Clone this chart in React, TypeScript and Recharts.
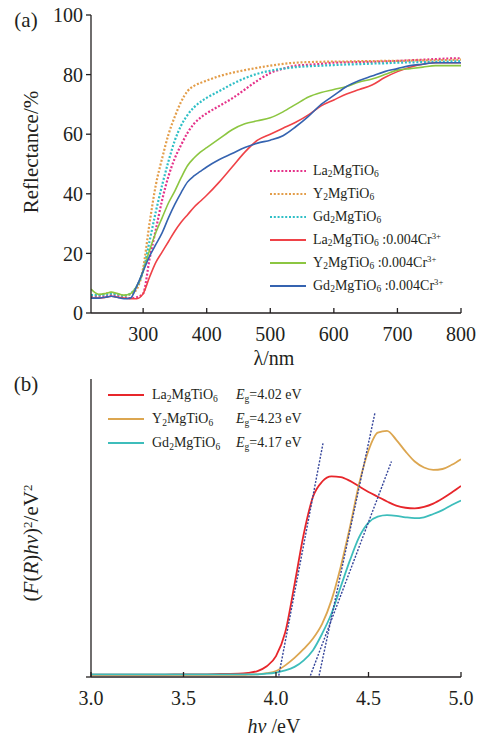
import React from 'react';
import { LineChart, Line, XAxis, YAxis, Legend } from 'recharts';

const FONT = '"Liberation Serif", "Times New Roman", serif';
const INK = '#231f20';

// (a) reflectance spectra, %
const wavelength = [218, 230, 240, 250, 260, 270, 280, 290, 300, 310, 320, 330, 340, 350, 360, 370, 380, 390, 400, 420, 440, 460, 480, 500, 520, 540, 560, 580, 600, 620, 640, 660, 680, 700, 720, 740, 760, 780, 800];
const laHost = [5.5, 5.5, 5.5, 6, 5.7, 5.2, 5, 5.3, 6.5, 18, 28, 38, 46, 52, 56.5, 60.5, 63.5, 65.5, 67, 69.5, 72, 75, 78, 80.5, 82, 83, 83.3, 83.6, 84, 84.1, 84.2, 84.3, 84.4, 84.6, 84.8, 85, 85.2, 85.4, 85.5];
const yHost = [6, 6, 6.5, 6.8, 6.3, 5.8, 6.2, 8, 15, 30, 43, 52, 60, 66, 71, 74.5, 76.2, 77.2, 78, 79.5, 80.6, 81.5, 82.3, 83, 83.6, 84, 84.2, 84.3, 84.4, 84.4, 84.5, 84.5, 84.6, 84.6, 84.7, 84.8, 84.8, 84.9, 85];
const gdHost = [6, 6, 6.2, 6.5, 6.2, 5.8, 6.5, 9, 14, 24, 34, 43, 51, 58, 63, 66.5, 69, 70.8, 72.2, 74.5, 76.8, 78.8, 80.3, 81.3, 82, 82.5, 82.8, 83, 83.2, 83.4, 83.5, 83.7, 83.8, 84, 84.1, 84.2, 84.3, 84.4, 84.5];
const laCr = [5, 5, 5.2, 5.6, 5.3, 5, 4.8, 4.8, 6.5, 12, 17, 20.5, 24, 27.5, 30.5, 33, 35.5, 37.5, 39.5, 44, 49, 54, 58, 60, 62, 64, 66.5, 69.5, 71.5, 73.5, 75, 76.5, 79, 81, 82.5, 83.5, 84, 84, 84];
const yCr = [8, 6.3, 6.5, 7, 6.5, 6, 6.5, 9, 14, 21, 27, 32, 37, 41, 45.5, 49.5, 52, 54, 55.5, 58.5, 61.5, 63.5, 64.5, 65.5, 67.5, 70, 72.5, 74, 75, 76, 77.5, 78.5, 80, 81.5, 82, 82.5, 83, 83, 83];
const gdCr = [5, 5, 5.3, 5.6, 5.2, 4.8, 5, 9, 14, 19, 23, 27, 32, 36.5, 40.5, 44, 46, 47.5, 49, 51.5, 53.5, 55.5, 57, 58, 59.5, 62.5, 66, 70, 73, 76, 78, 79.5, 81, 82, 83, 83.5, 84, 84, 84];
const wlTicks = [300, 400, 500, 600, 700, 800];
const reflTicks = [0, 20, 40, 60, 80, 100];

// (b) Kubelka-Munk plots, arbitrary units
const energy = [3.0, 3.1, 3.2, 3.3, 3.4, 3.5, 3.6, 3.7, 3.8, 3.85, 3.9, 3.95, 4.0, 4.05, 4.1, 4.15, 4.2, 4.25, 4.3, 4.35, 4.4, 4.45, 4.5, 4.55, 4.6, 4.65, 4.7, 4.75, 4.8, 4.85, 4.9, 4.95, 5.0];
const kmLa = [0.8, 0.8, 0.8, 0.8, 0.8, 0.9, 0.9, 1.0, 1.1, 1.4, 2.0, 3.6, 7, 15, 31, 48, 60.5, 65.6, 67.3, 67.1, 65.8, 63.9, 62.1, 60.5, 58.9, 57.5, 56.8, 56.6, 57.1, 58.2, 59.9, 61.9, 64.1];
const kmY = [0.7, 0.7, 0.7, 0.7, 0.7, 0.7, 0.7, 0.7, 0.7, 0.8, 0.9, 1.3, 2.0, 3.9, 6.4, 9.4, 12.9, 17.9, 25.8, 37, 50.4, 65, 76, 82, 82.6, 79.6, 75.7, 72.3, 70.3, 69.5, 69.8, 71.2, 73.1];
const kmGd = [0.9, 0.9, 0.9, 0.9, 0.9, 0.9, 0.9, 0.9, 0.9, 0.9, 0.9, 1.1, 1.5, 2.2, 3.4, 5.6, 9, 14.6, 21.3, 30.3, 39.2, 47, 51.8, 53.8, 54.3, 54.1, 53.6, 53.3, 53.6, 54.7, 56, 57.7, 59.2];
const fitLaX = [4.015, 4.254];
const fitLaY = [0.5, 78.4];
const fitYX = [4.233, 4.535];
const fitYY = [0.5, 88.7];
const fitGdX = [4.186, 4.624];
const fitGdY = [0.5, 72.3];
const evTicks = [3.0, 3.5, 4.0, 4.5, 5.0];

const reflRows = wavelength.map((wl, i) => ({
  wl, laHost: laHost[i], yHost: yHost[i], gdHost: gdHost[i], laCr: laCr[i], yCr: yCr[i], gdCr: gdCr[i],
}));
const kmRows = energy.map((ev, i) => ({ ev, la: kmLa[i], y: kmY[i], gd: kmGd[i] }));
const fitRows = (xs: number[], ys: number[]) => xs.map((ev, i) => ({ ev, fit: ys[i] }));

const Sub = ({ c }: { c: string }) => (
  <span style={{ fontSize: '0.68em', position: 'relative', top: '0.3em' }}>{c}</span>
);
const Sup = ({ c }: { c: string }) => (
  <span style={{ fontSize: '0.62em', position: 'relative', top: '-0.5em' }}>{c}</span>
);
const host = (el: string) => <>{el}<Sub c="2" />MgTiO<Sub c="6" /></>;
const doped = (el: string) => <>{host(el)} :0.004Cr<Sup c="3+" /></>;

const DOT = '2 1.8';
const reflSeries = [
  { key: 'laHost', color: '#e5338a', dash: DOT, label: host('La') },
  { key: 'yHost', color: '#e39d49', dash: DOT, label: host('Y') },
  { key: 'gdHost', color: '#2fbfc6', dash: DOT, label: host('Gd') },
  { key: 'laCr', color: '#ef4247', dash: undefined, label: doped('La') },
  { key: 'yCr', color: '#8cc641', dash: undefined, label: doped('Y') },
  { key: 'gdCr', color: '#3563b0', dash: undefined, label: doped('Gd') },
];
const kmSeries = [
  { key: 'la', color: '#e7262b', label: host('La'), eg: '4.02' },
  { key: 'y', color: '#dca650', label: host('Y'), eg: '4.23' },
  { key: 'gd', color: '#3dbdbb', label: host('Gd'), eg: '4.17' },
];
const FIT = '#34449a';

const axisLine = { stroke: INK, strokeWidth: 1.3 };
const tickFont = { fontSize: 20, fill: INK, fontFamily: FONT };

function ReflLegend() {
  return (
    <div style={{ fontSize: 14, color: INK, fontFamily: FONT }}>
      {reflSeries.map((s) => (
        <div key={s.key} style={{ display: 'flex', alignItems: 'center', height: 23, whiteSpace: 'nowrap' }}>
          <svg width={36} height={4} style={{ marginRight: 7 }}>
            <line x1={0} y1={2} x2={36} y2={2} stroke={s.color} strokeWidth={2} strokeDasharray={s.dash} />
          </svg>
          <span>{s.label}</span>
        </div>
      ))}
    </div>
  );
}

function KmLegend() {
  return (
    <div style={{ fontSize: 14, color: INK, fontFamily: FONT }}>
      {kmSeries.map((s) => (
        <div key={s.key} style={{ display: 'flex', alignItems: 'center', height: 24, whiteSpace: 'nowrap' }}>
          <svg width={36} height={4} style={{ marginRight: 8 }}>
            <line x1={0} y1={2} x2={36} y2={2} stroke={s.color} strokeWidth={2} />
          </svg>
          <span style={{ width: 84 }}>{s.label}</span>
          <span><i>E</i><Sub c="g" />={s.eg} eV</span>
        </div>
      ))}
    </div>
  );
}

function Text({ x, y, rotate, size = 21, children }: any) {
  return (
    <div
      style={{
        position: 'absolute', left: x, top: y, fontSize: size, lineHeight: 1, whiteSpace: 'nowrap',
        transform: `translate(-50%, -50%)${rotate ? ' rotate(-90deg)' : ''}`, color: INK,
      }}
    >
      {children}
    </div>
  );
}

export default function App() {
  return (
    <div style={{ position: 'absolute', left: 0, top: 0, width: 480, height: 736, background: '#fff', fontFamily: FONT }}>
      <div style={{ position: 'relative', width: 480, height: 370 }}>
        <LineChart width={480} height={370} data={reflRows} margin={{ top: 15, right: 19, bottom: 17, left: 0 }}>
          <XAxis dataKey="wl" type="number" domain={[218, 800]} ticks={wlTicks} allowDataOverflow height={40}
            tickSize={-5} tickMargin={19} axisLine={axisLine} tickLine={axisLine} tick={tickFont} />
          <XAxis xAxisId="top" orientation="top" type="number" domain={[218, 800]} allowDataOverflow height={0}
            tick={false} tickLine={false} axisLine={axisLine} />
          <YAxis type="number" domain={[0, 100]} ticks={reflTicks} allowDataOverflow width={91}
            tickSize={5} tickMargin={3} axisLine={axisLine} tickLine={axisLine} tick={tickFont} />
          <YAxis yAxisId="right" orientation="right" type="number" domain={[0, 100]} width={0}
            tick={false} tickLine={false} axisLine={axisLine} />
          {reflSeries.map((s) => (
            <Line key={s.key} dataKey={s.key} type="monotone" stroke={s.color} strokeWidth={s.dash ? 2.2 : 1.6}
              strokeDasharray={s.dash} dot={false} isAnimationActive={false} />
          ))}
          <Legend layout="vertical" align="center" verticalAlign="middle" content={<ReflLegend />}
            wrapperStyle={{ left: 270, top: 159, width: 200, height: 140 }} />
        </LineChart>
        <Text x={26} y={20}>(a)</Text>
        <Text x={31} y={152} rotate>Reflectance/%</Text>
        <Text x={274} y={358} size={20}>λ/nm</Text>
      </div>
      <div style={{ position: 'relative', width: 480, height: 366 }}>
        <LineChart width={480} height={366} data={kmRows} margin={{ top: 9, right: 19, bottom: 19, left: 0 }}>
          <XAxis dataKey="ev" type="number" domain={[3, 5]} ticks={evTicks} allowDataOverflow height={40}
            tickSize={-5} tickMargin={19} axisLine={axisLine} tickLine={axisLine} tick={tickFont}
            tickFormatter={(v: number) => v.toFixed(1)} />
          <XAxis xAxisId="top" orientation="top" type="number" domain={[3, 5]} allowDataOverflow height={0}
            tick={false} tickLine={false} axisLine={axisLine} />
          <YAxis type="number" domain={[0, 100]} ticks={[0]} allowDataOverflow width={91}
            tickSize={5} tickMargin={3} axisLine={axisLine} tickLine={axisLine} tickFormatter={() => ''} />
          <YAxis yAxisId="right" orientation="right" type="number" domain={[0, 100]} width={0}
            tick={false} tickLine={false} axisLine={axisLine} />
          {kmSeries.map((s) => (
            <Line key={s.key} dataKey={s.key} type="monotone" stroke={s.color} strokeWidth={1.8}
              dot={false} isAnimationActive={false} />
          ))}
          <Line data={fitRows(fitLaX, fitLaY)} dataKey="fit" type="linear" stroke={FIT} strokeWidth={1.4}
            strokeDasharray="2 1.5" dot={false} isAnimationActive={false} />
          <Line data={fitRows(fitYX, fitYY)} dataKey="fit" type="linear" stroke={FIT} strokeWidth={1.4}
            strokeDasharray="2 1.5" dot={false} isAnimationActive={false} />
          <Line data={fitRows(fitGdX, fitGdY)} dataKey="fit" type="linear" stroke={FIT} strokeWidth={1.4}
            strokeDasharray="2 1.5" dot={false} isAnimationActive={false} />
          <Legend layout="vertical" align="center" verticalAlign="middle" content={<KmLegend />}
            wrapperStyle={{ left: 108, top: 13, width: 240, height: 72 }} />
        </LineChart>
        <Text x={26} y={14}>(b)</Text>
        <Text x={31} y={173} rotate>
          (<i>F</i>(<i>R</i>)<i>hν</i>)<Sup c="2" />/eV<Sup c="2" />
        </Text>
        <Text x={274} y={356} size={20}><i>hν</i> /eV</Text>
      </div>
    </div>
  );
}
